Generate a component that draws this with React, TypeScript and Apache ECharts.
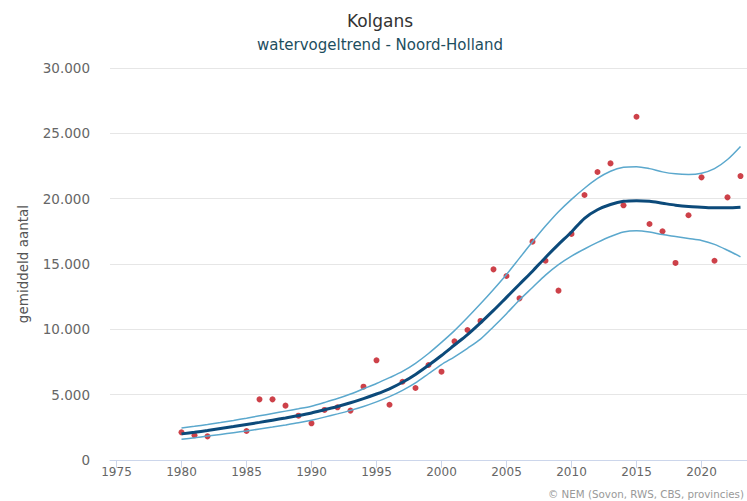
import React, { useEffect, useRef } from "react";
import * as echarts from "echarts";

const trendYears = [1980, 1981, 1982, 1983, 1984, 1985, 1986, 1987, 1988, 1989, 1990, 1991, 1992, 1993, 1994, 1995, 1996, 1997, 1998, 1999, 2000, 2001, 2002, 2003, 2004, 2005, 2006, 2007, 2008, 2009, 2010, 2011, 2012, 2013, 2014, 2015, 2016, 2017, 2018, 2019, 2020, 2021, 2022, 2023];
const trendValues = [2000, 2120, 2260, 2410, 2560, 2720, 2880, 3050, 3220, 3400, 3600, 3850, 4100, 4380, 4700, 5050, 5450, 5950, 6550, 7250, 8000, 8800, 9600, 10500, 11450, 12450, 13450, 14450, 15500, 16500, 17450, 18500, 19150, 19550, 19800, 19850, 19800, 19650, 19500, 19400, 19350, 19300, 19300, 19350];
const upperValues = [2450, 2580, 2720, 2870, 3030, 3200, 3380, 3560, 3740, 3920, 4120, 4400, 4700, 5050, 5450, 5850, 6300, 6780, 7400, 8150, 9000, 9900, 10900, 11950, 13050, 14200, 15450, 16700, 17900, 19000, 19950, 20800, 21550, 22100, 22400, 22450, 22300, 22050, 21900, 21850, 21950, 22300, 23000, 24000];
const lowerValues = [1580, 1700, 1830, 1960, 2090, 2220, 2370, 2520, 2680, 2850, 3050, 3280, 3530, 3800, 4100, 4450, 4850, 5330, 5900, 6600, 7300, 7900, 8550, 9250, 10200, 11200, 12250, 13200, 14150, 14950, 15600, 16150, 16650, 17100, 17450, 17550, 17450, 17250, 17100, 16950, 16800, 16500, 16050, 15550];

const obsYears = [1980, 1981, 1982, 1985, 1986, 1987, 1988, 1989, 1990, 1991, 1992, 1993, 1994, 1995, 1996, 1997, 1998, 1999, 2000, 2001, 2002, 2003, 2004, 2005, 2006, 2007, 2008, 2009, 2010, 2011, 2012, 2013, 2014, 2015, 2016, 2017, 2018, 2019, 2020, 2021, 2022, 2023];
const obsValues = [2120, 1890, 1810, 2220, 4640, 4640, 4160, 3390, 2810, 3830, 4030, 3780, 5610, 7630, 4230, 5990, 5510, 7270, 6760, 9080, 9950, 10640, 14590, 14080, 12370, 16710, 15250, 12960, 17300, 20280, 22040, 22700, 19490, 26270, 18060, 17500, 15080, 18730, 21630, 15250, 20100, 21730];

const xTicks = [1975, 1980, 1985, 1990, 1995, 2000, 2005, 2010, 2015, 2020];

const titleText = "Kolgans";
const subtitleText = "watervogeltrend - Noord-Holland";
const yAxisName = "gemiddeld aantal";
const creditText = "© NEM (Sovon, RWS, CBS, provincies)";

const FONT = "'DejaVu Sans', Verdana, sans-serif";

export default function App() {
  const ref = useRef<HTMLDivElement>(null);
  useEffect(() => {
    document.body.style.margin = "0";
    const chart = echarts.init(ref.current!, null, { renderer: "svg" });
    const pair = (ys: number[], vs: number[]) => ys.map((y, i) => [y, vs[i]]);
    const fmt = (v: number) => {
      const s = String(Math.round(v));
      return s.replace(/\B(?=(\d{3})+(?!\d))/g, ".");
    };
    chart.setOption({
      animation: false,
      backgroundColor: "#ffffff",
      textStyle: { fontFamily: FONT },
      graphic: [
        { type: "text", x: 380, y: 21, style: { text: titleText, fontSize: 17, fill: "#333333", fontFamily: FONT, align: "center", verticalAlign: "middle" } },
        { type: "text", x: 380, y: 45, style: { text: subtitleText, fontSize: 15, fill: "#1d4e5e", fontFamily: FONT, align: "center", verticalAlign: "middle" } },
        { type: "text", x: 744, y: 494, style: { text: creditText, fontSize: 10.3, fill: "#999999", fontFamily: FONT, align: "right", verticalAlign: "middle" } },
      ],
      grid: { left: 110, right: 0, top: 68, bottom: 41, containLabel: false },
      xAxis: {
        type: "value",
        min: 1974.5,
        max: 2023.5,
        splitLine: { show: false },
        axisLine: { show: true, lineStyle: { color: "#ccd6eb", width: 1 } },
        axisTick: { show: true, length: 8, lineStyle: { color: "#ccd6eb" }, customValues: xTicks },
        axisLabel: { customValues: xTicks, color: "#666666", fontSize: 12, margin: 6, fontFamily: FONT, formatter: (v: number) => String(v) },
      },
      yAxis: {
        type: "value",
        min: 0,
        max: 30000,
        interval: 5000,
        name: yAxisName,
        nameLocation: "middle",
        nameGap: 80,
        nameRotate: 90,
        nameTextStyle: { color: "#555555", fontSize: 13.5, fontFamily: FONT },
        axisLine: { show: false },
        axisTick: { show: false },
        splitLine: { show: true, lineStyle: { color: "#e6e6e6", width: 1 } },
        axisLabel: { color: "#666666", fontSize: 13.5, margin: 20, fontFamily: FONT, formatter: fmt },
      },
      series: [
        {
          type: "scatter",
          data: pair(obsYears, obsValues),
          symbol: "circle",
          symbolSize: 6,
          itemStyle: { color: "#c0111b" },
          z: 2,
        },
        {
          type: "line",
          data: pair(trendYears, upperValues),
          smooth: 0.3,
          showSymbol: false,
          lineStyle: { color: "#5ba8cd", width: 1.5 },
          z: 3,
        },
        {
          type: "line",
          data: pair(trendYears, lowerValues),
          smooth: 0.3,
          showSymbol: false,
          lineStyle: { color: "#5ba8cd", width: 1.5 },
          z: 3,
        },
        {
          type: "line",
          data: pair(trendYears, trendValues),
          smooth: 0.3,
          showSymbol: false,
          lineStyle: { color: "#0c4a7a", width: 3 },
          z: 4,
        },
      ],
    });
    return () => chart.dispose();
  }, []);
  return <div ref={ref} style={{ width: 747, height: 501 }} />;
}
